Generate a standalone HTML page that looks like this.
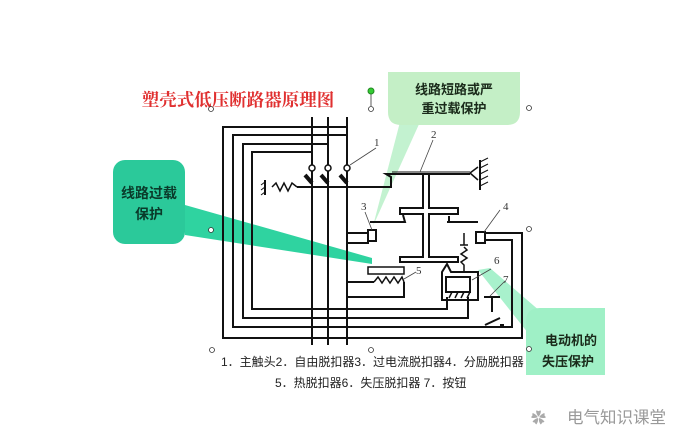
<!DOCTYPE html>
<html><head><meta charset="utf-8"><style>
html,body{margin:0;padding:0;background:#fff;width:688px;height:446px;overflow:hidden}
svg{display:block}
</style></head><body>
<svg width="688" height="446" viewBox="0 0 688 446" xmlns="http://www.w3.org/2000/svg">
<path d="M185,205 L372,258 L372,264 L185,235 Z" fill="#2fd3a0"/>
<rect x="113" y="160" width="72" height="84" rx="12" fill="#2bc99a"/>
<text x="149" y="198" font-family="Liberation Sans,'Noto Sans CJK SC',sans-serif" font-size="14" font-weight="bold" fill="#0a3a2a" text-anchor="middle">线路过载</text>
<text x="149" y="219" font-family="Liberation Sans,'Noto Sans CJK SC',sans-serif" font-size="14" font-weight="bold" fill="#0a3a2a" text-anchor="middle">保护</text>

<path d="M400,122 L373,226 L420,122 Z" fill="#b8f0c8" opacity="0.85"/>
<path d="M388,72 L520,72 L520,112 Q520,125 507,125 L401,125 Q388,125 388,112 Z" fill="#c4efc6"/>
<text x="454" y="94" font-family="Liberation Sans,'Noto Sans CJK SC',sans-serif" font-size="13" font-weight="bold" fill="#1a2a1a" text-anchor="middle">线路短路或严</text>
<text x="454" y="113" font-family="Liberation Sans,'Noto Sans CJK SC',sans-serif" font-size="13" font-weight="bold" fill="#1a2a1a" text-anchor="middle">重过载保护</text>

<path d="M478,270 L540,348 L548,318 L490,268 Z" fill="#9ef0c6" opacity="0.9"/>
<path d="M540,308 L605,308 L605,375 L526,375 L526,322 Q526,308 540,308 Z" fill="#9ff0c6"/>
<text x="571" y="345" font-family="Liberation Sans,'Noto Sans CJK SC',sans-serif" font-size="13" font-weight="bold" fill="#1a2a1a" text-anchor="middle">电动机的</text>
<text x="568" y="366" font-family="Liberation Sans,'Noto Sans CJK SC',sans-serif" font-size="13" font-weight="bold" fill="#1a2a1a" text-anchor="middle">失压保护</text>

<text x="238" y="106" font-family="'Liberation Serif','Noto Serif CJK SC',serif" font-size="17.5" font-weight="bold" fill="#e03030" text-anchor="middle">塑壳式低压断路器原理图</text>

<g fill="none" stroke="#111" stroke-width="2">
<path d="M347,127 L223,127 L223,338 L522,338 L522,233 L485,233"/>
<path d="M347,135 L233,135 L233,327 L512,327 L512,240 L485,240"/>
<path d="M328,144 L243,144 L243,318 L468,318 L468,297"/>
<path d="M312,152 L252,152 L252,309 L447,309 L447,297"/>
<line x1="312" y1="117" x2="312" y2="345"/>
<line x1="328" y1="117" x2="328" y2="345"/>
<line x1="347" y1="117" x2="347" y2="345"/>
<path d="M297,187 L391,187 L391,177 L386,174 L470,174"/>
<line x1="392" y1="172" x2="470" y2="172" stroke-width="1"/>
<path d="M297,187 L292,183 L288,191 L284,183 L280,191 L276,183 L272,187" stroke-width="1.5"/>
<line x1="265" y1="180" x2="265" y2="195"/>
<path d="M265,182 L261,185 M265,187 L261,190 M265,192 L261,195" stroke-width="1"/>
<path d="M470,173 L478,167 M470,173 L478,180" stroke-width="1.5"/>
<line x1="480" y1="160" x2="480" y2="190"/>
<path d="M480,162 L488,158 M480,168 L488,164 M480,174 L488,170 M480,180 L488,176 M480,186 L488,182" stroke-width="1"/>
<path d="M423,175 L423,208 L400,208 L400,214 L423,214 L423,257 L400,257 L400,262 L458,262 L458,257 L429,257 L429,214 L458,214 L458,208 L429,208 L429,175"/>
<path d="M370,222 L405,222 L403,215" stroke-width="2"/>
<path d="M447,222 L478,222 M449,222 L449,216" stroke-width="2"/>
<path d="M347,233 L368,233 M347,243 L368,243 L368,233"/>
<rect x="368" y="230" width="8" height="11"/>
<path d="M347,243 L347,345"/>
<path d="M347,282 L374,282 M404,282 L404,297 L347,297"/>
<rect x="368" y="267" width="36" height="7" stroke-width="1.5"/>
<path d="M374,282 L378,277 L382,283 L386,277 L390,283 L394,277 L398,283 L402,277 L404,282" stroke-width="1.5"/>
<rect x="476" y="232" width="9" height="11"/>
<path d="M464,233 L464,245 M460,245 L468,245" stroke-width="1.5"/>
<path d="M464,247 L467,250 L461,254 L467,258 L461,262 L464,265 L464,272" stroke-width="1.5"/>
<path d="M442,300 L442,272 L447,264 L451,272 L478,272 L478,300 Z"/>
<rect x="446" y="277" width="24" height="15"/>
<path d="M449,298 L452,292 M455,298 L458,292 M461,298 L464,292 M467,298 L470,292" stroke-width="1.5"/>
<path d="M484,297 L500,297 M492,297 L492,312" stroke-width="2"/>
<path d="M485,325 L500,318 M500,325 L504,325" stroke-width="2"/>
</g>
<g fill="#fff" stroke="#111" stroke-width="1.5">
<circle cx="312" cy="168" r="3"/><circle cx="328" cy="168" r="3"/><circle cx="347" cy="168" r="3"/>
</g>
<g stroke="#111" stroke-width="4">
<line x1="305" y1="175" x2="312" y2="183"/><line x1="321" y1="175" x2="328" y2="183"/><line x1="340" y1="175" x2="347" y2="183"/>
</g>
<g stroke="#444" stroke-width="0.8" fill="none">
<path d="M350,165 L376,148"/><path d="M420,172 L433,140"/><path d="M372,230 L365,212"/>
<path d="M484,232 L500,210"/><path d="M404,279 L416,272"/><path d="M472,280 L491,269"/><path d="M490,296 L505,281"/>
</g>
<g font-family="'Liberation Serif',serif" font-size="11" fill="#333">
<text x="374" y="146">1</text><text x="431" y="138">2</text><text x="361" y="210">3</text>
<text x="503" y="210">4</text><text x="416" y="274">5</text><text x="494" y="264">6</text><text x="503" y="283">7</text>
</g>
<g fill="#fff" stroke="#333" stroke-width="0.8">
<circle cx="211" cy="109" r="2.5"/><circle cx="371" cy="109" r="2.5"/><circle cx="529" cy="108" r="2.5"/>
<circle cx="211" cy="230" r="2.5"/><circle cx="529" cy="229" r="2.5"/>
<circle cx="212" cy="350" r="2.5"/><circle cx="371" cy="350" r="2.5"/><circle cx="529" cy="349" r="2.5"/>
</g>
<line x1="371" y1="94" x2="371" y2="106" stroke="#333" stroke-width="0.8"/>
<circle cx="371" cy="91" r="3" fill="#3c3" stroke="#282"/>
<g font-family="'Liberation Sans','Noto Sans CJK SC',sans-serif" font-size="12" fill="#222">
<text x="221" y="366">1．主触头2．自由脱扣器3．过电流脱扣器4．分励脱扣器</text>
<text x="275" y="387">5．热脱扣器6．失压脱扣器 7．按钮</text>
</g>
<text x="531" y="423" font-size="15" fill="#aaa" font-family="'Liberation Sans','Noto Sans CJK SC',sans-serif">✿</text>
<text x="567" y="423" font-size="16.5" fill="#999" font-family="'Liberation Sans','Noto Sans CJK SC',sans-serif">电气知识课堂</text>
</svg>
</body></html>
